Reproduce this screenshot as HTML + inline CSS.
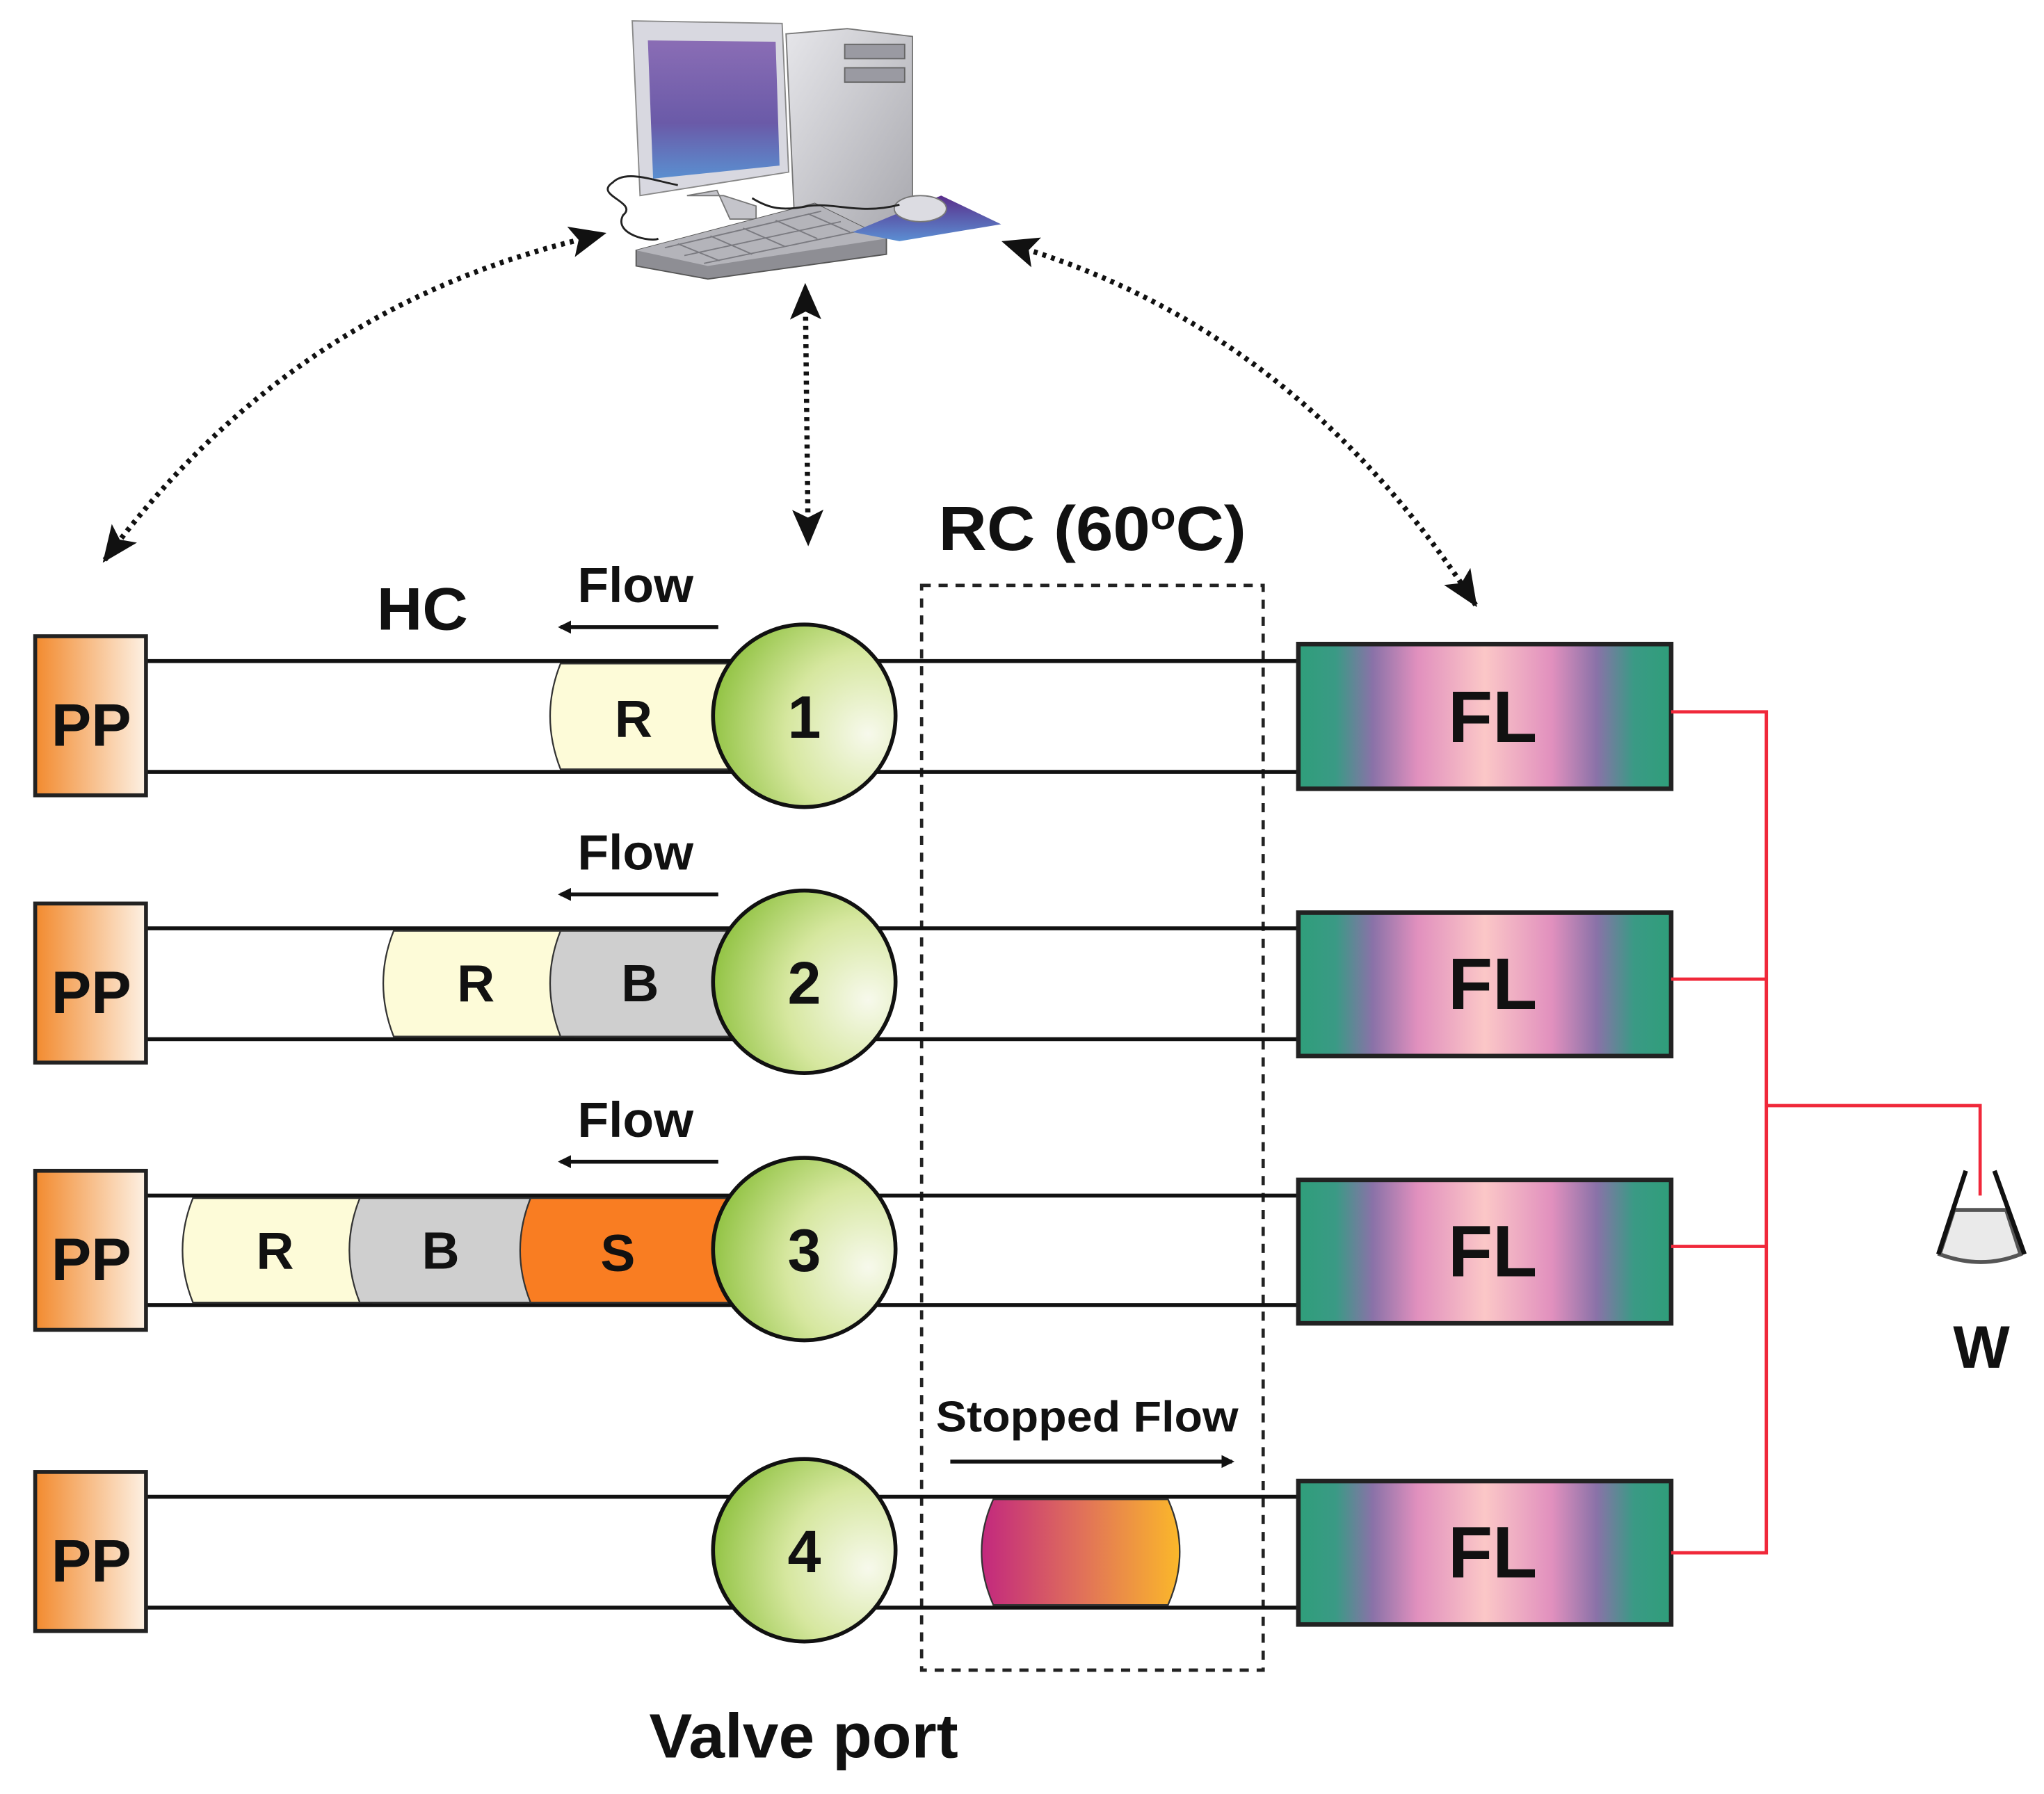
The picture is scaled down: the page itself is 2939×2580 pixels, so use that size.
<!DOCTYPE html>
<html><head><meta charset="utf-8"><style>
html,body{margin:0;padding:0;background:#fff}
svg{display:block}
text{font-family:"Liberation Sans",sans-serif;font-weight:bold;fill:#111}
</style></head><body>
<svg width="2939" height="2580" viewBox="0 0 1568 1376" preserveAspectRatio="none" xmlns="http://www.w3.org/2000/svg">
<defs>
<linearGradient id="pp" x1="0" x2="1"><stop offset="0" stop-color="#f28a2e"/><stop offset="1" stop-color="#fdf1e4"/></linearGradient>
<radialGradient id="vg" cx="0.85" cy="0.6" r="0.9"><stop offset="0" stop-color="#f7f9ec"/><stop offset="0.5" stop-color="#d6e79f"/><stop offset="1" stop-color="#8cc03c"/></radialGradient>
<linearGradient id="fl" x1="0" x2="1">
<stop offset="0" stop-color="#2f9e7a"/><stop offset="0.1" stop-color="#3a9a85"/><stop offset="0.2" stop-color="#8a72a8"/><stop offset="0.32" stop-color="#e190be"/><stop offset="0.5" stop-color="#fbc7c7"/><stop offset="0.68" stop-color="#e190be"/><stop offset="0.8" stop-color="#8a72a8"/><stop offset="0.9" stop-color="#3a9a85"/><stop offset="1" stop-color="#2f9e7a"/></linearGradient>
<linearGradient id="sf" x1="0" x2="1"><stop offset="0" stop-color="#c2287e"/><stop offset="0.5" stop-color="#e0705a"/><stop offset="1" stop-color="#fbb82a"/></linearGradient>
<linearGradient id="scr" x1="0" y1="0" x2="0" y2="1"><stop offset="0" stop-color="#8a6db5"/><stop offset="0.6" stop-color="#6a5aa8"/><stop offset="1" stop-color="#5a8fd0"/></linearGradient>
<linearGradient id="gry" x1="0" y1="0" x2="1" y2="1"><stop offset="0" stop-color="#e6e6ea"/><stop offset="1" stop-color="#a8a8ae"/></linearGradient>
<linearGradient id="pad" x1="0" y1="0" x2="0" y2="1"><stop offset="0" stop-color="#5a2d8a"/><stop offset="1" stop-color="#5b8fd3"/></linearGradient>
<marker id="ah" markerWidth="10" markerHeight="10" refX="8" refY="5" orient="auto" markerUnits="userSpaceOnUse" viewBox="0 0 10 10"><path d="M0,0 L10,5 L0,10 z" fill="#111"/></marker>
<marker id="big" markerWidth="28" markerHeight="24" refX="26" refY="12" orient="auto" markerUnits="userSpaceOnUse" viewBox="0 0 28 24"><path d="M0,0 L28,12 L0,24 L6,12 z" fill="#111"/></marker>
<marker id="bigs" markerWidth="28" markerHeight="24" refX="2" refY="12" orient="auto-start-reverse" markerUnits="userSpaceOnUse" viewBox="0 0 28 24"><path d="M0,0 L28,12 L0,24 L6,12 z" fill="#111"/></marker>
</defs>

<!-- computer -->
<g>
<path d="M603,26 L650,22 L700,28 L700,180 L610,180 Z" fill="url(#gry)" stroke="#777"/>
<rect x="648" y="34" width="46" height="11" fill="#9a9aa2" stroke="#666"/>
<rect x="648" y="52" width="46" height="11" fill="#9a9aa2" stroke="#666"/>
<path d="M485,16 L600,18 L605,132 L491,150 Z" fill="#d8d8e0" stroke="#888"/>
<path d="M497,31 L595,32 L598,127 L501,137 Z" fill="url(#scr)"/>
<path d="M527,150 L550,146 L560,168 L580,168 L580,158 L555,150 Z" fill="#c4c4ca" stroke="#777"/>
<path d="M488,192 L625,156 L680,183 L680,195 L543,214 L488,204 Z" fill="#8e8e94" stroke="#555"/>
<path d="M488,192 L625,156 L680,183 L543,204 Z" fill="#b4b4ba"/>
<g stroke="#7a7a80" stroke-width="1" fill="none">
<path d="M510,190 L630,162 M525,196 L645,170 M540,202 L660,177"/>
<path d="M520,187 L552,200 M545,181 L577,195 M570,175 L602,189 M595,169 L627,183 M620,164 L652,178"/>
</g>
<path d="M654,178 L722,150 L768,172 L690,185 Z" fill="url(#pad)"/>
<ellipse cx="706" cy="160" rx="20" ry="10" fill="#dcdce2" stroke="#777"/>
<path d="M520,142 C500,138 480,130 470,140 C455,150 490,155 478,165 C470,180 500,186 505,183 M577,152 C590,160 600,162 620,158 C640,155 660,165 690,157" fill="none" stroke="#222" stroke-width="1.5"/>
</g>

<!-- dotted arrows -->
<path d="M440,185 Q220,240 80,430" fill="none" stroke="#111" stroke-width="4" stroke-dasharray="3,4" marker-end="url(#big)" marker-start="url(#bigs)"/>
<path d="M618,243 L620,417" fill="none" stroke="#111" stroke-width="4" stroke-dasharray="3,4" marker-end="url(#big)" marker-start="url(#bigs)"/>
<path d="M793,193 Q1000,260 1132,464" fill="none" stroke="#111" stroke-width="4" stroke-dasharray="3,4" marker-end="url(#big)" marker-start="url(#bigs)"/>

<!-- RC box -->
<rect x="707" y="449" width="262" height="832" fill="none" stroke="#222" stroke-width="2.5" stroke-dasharray="7,6"/>
<text x="720" y="422" font-size="48" textLength="236" lengthAdjust="spacingAndGlyphs">RC (60<tspan font-size="30" dy="-16">o</tspan><tspan dy="16">C)</tspan></text>
<text x="289" y="483" font-size="46" textLength="70" lengthAdjust="spacingAndGlyphs">HC</text>

<!-- rows -->
<g stroke="#111" stroke-width="3">
<line x1="112" y1="507" x2="996" y2="507"/><line x1="112" y1="592" x2="996" y2="592"/>
<line x1="112" y1="712" x2="996" y2="712"/><line x1="112" y1="797" x2="996" y2="797"/>
<line x1="112" y1="917" x2="996" y2="917"/><line x1="112" y1="1001" x2="996" y2="1001"/>
<line x1="112" y1="1148" x2="996" y2="1148"/><line x1="112" y1="1233" x2="996" y2="1233"/>
</g>

<!-- plugs -->
<g stroke="#333" stroke-width="1.2">
<path d="M430,509 L560,509 L560,590 L430,590 Q414,549 430,509 Z" fill="#fdfbd8"/>
<path d="M302,714 L440,714 L440,795 L302,795 Q286,754 302,714 Z" fill="#fdfbd8"/>
<path d="M430,714 L560,714 L560,795 L430,795 Q414,754 430,714 Z" fill="#cfcfcf"/>
<path d="M148,919 L285,919 L285,999 L148,999 Q132,959 148,919 Z" fill="#fdfbd8"/>
<path d="M276,919 L410,919 L410,999 L276,999 Q260,959 276,919 Z" fill="#cfcfcf"/>
<path d="M407,919 L560,919 L560,999 L407,999 Q391,959 407,919 Z" fill="#f97d22"/>
<path d="M762,1150 L896,1150 Q914,1190 896,1231 L762,1231 Q744,1190 762,1150 Z" fill="url(#sf)"/>
</g>
<g font-size="40" text-anchor="middle">
<text x="486" y="565">R</text>
<text x="365" y="768">R</text><text x="491" y="768">B</text>
<text x="211" y="973">R</text><text x="338" y="973">B</text><text x="474" y="975">S</text>
</g>

<!-- flow labels -->
<g font-size="38">
<text x="443" y="462" textLength="89" lengthAdjust="spacingAndGlyphs">Flow</text>
<text x="443" y="667" textLength="89" lengthAdjust="spacingAndGlyphs">Flow</text>
<text x="443" y="872" textLength="89" lengthAdjust="spacingAndGlyphs">Flow</text>
</g>
<g stroke="#111" stroke-width="3" marker-end="url(#ah)">
<line x1="551" y1="481" x2="430" y2="481"/><line x1="551" y1="686" x2="430" y2="686"/><line x1="551" y1="891" x2="430" y2="891"/>
<line x1="729" y1="1121" x2="945" y2="1121"/>
</g>
<text x="718" y="1098" font-size="33" textLength="232" lengthAdjust="spacingAndGlyphs">Stopped Flow</text>

<!-- PP -->
<g stroke="#222" stroke-width="3" fill="url(#pp)">
<rect x="27" y="488" width="85" height="122"/><rect x="27" y="693" width="85" height="122"/>
<rect x="27" y="898" width="85" height="122"/><rect x="27" y="1129" width="85" height="122"/>
</g>
<g font-size="46" text-anchor="middle">
<text x="70" y="572">PP</text><text x="70" y="777">PP</text><text x="70" y="982">PP</text><text x="70" y="1213">PP</text>
</g>

<!-- valves -->
<g stroke="#111" stroke-width="3" fill="url(#vg)">
<circle cx="617" cy="549" r="70"/><circle cx="617" cy="753" r="70"/><circle cx="617" cy="958" r="70"/><circle cx="617" cy="1189" r="70"/>
</g>
<g font-size="46" text-anchor="middle">
<text x="617" y="566">1</text><text x="617" y="770">2</text><text x="617" y="975">3</text><text x="617" y="1206">4</text>
</g>

<!-- FL -->
<g stroke="#222" stroke-width="3.5" fill="url(#fl)">
<rect x="996" y="494" width="286" height="111"/><rect x="996" y="700" width="286" height="110"/>
<rect x="996" y="905" width="286" height="110"/><rect x="996" y="1136" width="286" height="110"/>
</g>
<g font-size="56" text-anchor="middle">
<text x="1145" y="569">FL</text><text x="1145" y="774">FL</text><text x="1145" y="979">FL</text><text x="1145" y="1210">FL</text>
</g>

<!-- red lines -->
<g stroke="#f0283a" stroke-width="2.5" fill="none">
<path d="M1282,546 H1355 V1191 H1282"/>
<path d="M1282,751 H1355 M1282,956 H1355"/>
<path d="M1355,848 H1519 V917"/>
</g>

<!-- beaker -->
<path d="M1499,928 L1539,928 L1550,962 Q1520,974 1488,962 Z" fill="#eaeaea" stroke="#555" stroke-width="3"/>
<path d="M1508,898 L1487,962 M1530,898 L1553,962" stroke="#111" stroke-width="3.5"/>
<text x="1520" y="1049" font-size="46" text-anchor="middle">W</text>

<text x="498" y="1348" font-size="48" textLength="237" lengthAdjust="spacingAndGlyphs">Valve port</text>
</svg>
</body></html>
